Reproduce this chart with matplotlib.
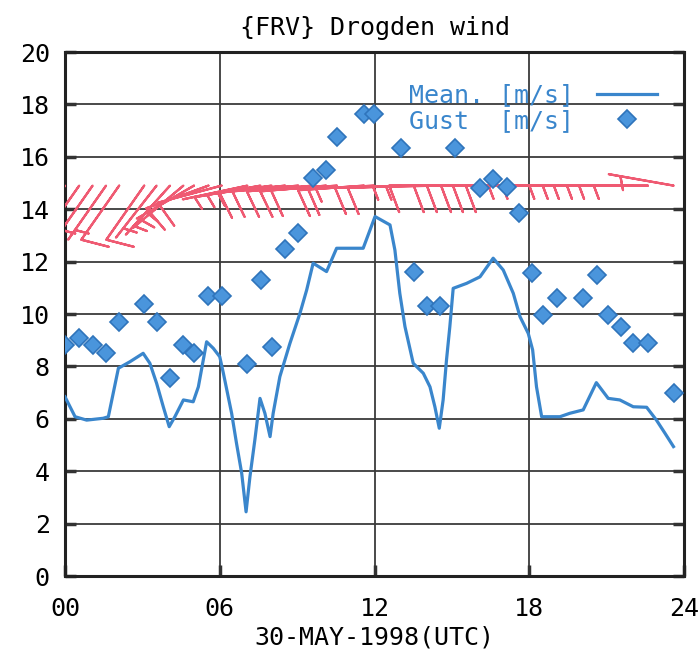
import numpy as np
import matplotlib
matplotlib.use("Agg")
import matplotlib.pyplot as plt

# Mean wind (blue line), hours UTC / m/s
mean_t = [0, 0.39, 0.84, 1.48, 1.68, 2.07, 2.52, 3.03, 3.29, 3.55, 3.81, 4.04, 4.26, 4.59, 4.97,
          5.17, 5.49, 5.75, 6.0, 6.14, 6.46, 6.65, 6.85, 7.02, 7.17, 7.36, 7.56, 7.75, 7.95, 8.07,
          8.33, 8.72, 9.11, 9.37, 9.62, 10.14, 10.53, 11.56, 12.02, 12.6, 12.79, 12.98, 13.18, 13.5,
          13.89, 14.15, 14.34, 14.51, 14.66, 14.79, 14.92, 15.05, 15.57, 16.09, 16.6, 16.99, 17.38,
          17.64, 17.96, 18.13, 18.28, 18.48, 19.19, 19.57, 20.09, 20.6, 21.06, 21.51, 22.03, 22.55,
          22.93, 23.26, 23.59]
mean_ws = [6.84, 6.08, 5.95, 6.02, 6.08, 7.93, 8.18, 8.5, 8.12, 7.36, 6.46, 5.7, 6.08, 6.72, 6.65,
           7.22, 8.94, 8.69, 8.37, 7.74, 6.21, 5.06, 3.92, 2.45, 3.79, 5.19, 6.78, 6.21, 5.32, 6.21,
           7.61, 8.88, 10.03, 10.92, 11.94, 11.62, 12.51, 12.51, 13.72, 13.4, 12.44, 10.79, 9.52, 8.12,
           7.74, 7.22, 6.46, 5.64, 6.72, 8.24, 9.52, 10.98, 11.17, 11.42, 12.13, 11.68, 10.79,
           9.9, 9.26, 8.63, 7.22, 6.08, 6.08, 6.21, 6.34, 7.38, 6.78, 6.72, 6.46, 6.44,
           5.95, 5.45, 4.94]

# Gusts (blue diamonds) and wind barbs share the same times
gust_t = [0, 0.55, 1.07, 1.59, 2.1, 3.07, 3.55, 4.07, 4.59, 5.0, 5.56, 6.07, 7.07, 7.58, 8.01,
          8.53, 9.04, 9.6, 10.12, 10.54, 11.59, 11.98, 13.03, 13.52, 14.04, 14.55, 15.13, 16.08,
          16.59, 17.14, 17.6, 18.1, 18.52, 19.06, 20.1, 20.62, 21.05, 21.56, 22.03, 22.6, 23.6]
gust_ws = [8.8, 9.1, 8.8, 8.5, 9.7, 10.4, 9.7, 7.55, 8.8, 8.5, 10.7, 10.7, 8.1, 11.3, 8.75,
           12.5, 13.1, 15.2, 15.5, 16.75, 17.65, 17.65, 16.35, 11.6, 10.3, 10.3, 16.35, 14.8,
           15.15, 14.85, 13.85, 11.55, 9.95, 10.6, 10.6, 11.5, 9.95, 9.5, 8.9, 8.9, 7.0]

# wind direction (deg, from) and speed for the barbs
barb_dir = [215, 215, 215, 215, 215, 215, 218, 222, 230, 240, 250, 255, 258, 260, 262,
            264, 265, 265, 265, 266, 266, 267, 268, 268, 269, 269, 270, 270,
            270, 270, 270, 270, 270, 270, 270, 270, 270, 270, 270, 270, 280]
barb_ws = [6.8, 6.0, 5.95, 6.05, 7.9, 8.5, 7.3, 5.7, 6.7, 6.7, 8.9, 8.0, 5.0, 6.7, 5.5,
           8.2, 9.8, 11.9, 11.6, 12.5, 12.5, 13.7, 10.5, 8.1, 7.4, 5.7, 11.0, 11.4,
           12.1, 11.4, 9.9, 8.7, 6.1, 6.1, 6.3, 7.4, 6.8, 6.7, 6.5, 6.4, 4.9]
barb_level = 14.9

x_ticks = [0, 6, 12, 18, 24]
x_ticklabels = ["00", "06", "12", "18", "24"]
y_ticks = list(range(0, 21, 2))

BLUE = "#3a86cc"
RED = "#ef5a72"
FONT = "DejaVu Sans Mono"
FS = 18

fig = plt.figure(figsize=(6.99, 6.51), dpi=100)
ax = fig.add_axes([0.093, 0.1152, 0.8856, 0.8049])

rad = np.deg2rad(barb_dir)
ws = np.array(barb_ws)
u = -ws * np.sin(rad)
v = -ws * np.cos(rad)
ax.barbs(gust_t, np.full(len(gust_t), barb_level), u, v, color=RED, length=9.75,
         linewidth=1.6, sizes=dict(height=0.4, spacing=0.12, width=-0.3), flip_barb=True,
         zorder=3, clip_on=True)

ax.plot(mean_t, mean_ws, color=BLUE, lw=2.3, label="Mean. [m/s]", zorder=4)
ax.plot(gust_t, gust_ws, ls="none", marker="D", ms=9, color="#4a95dc",
        mec="#2f74bb", mew=1.2, label="Gust  [m/s]", zorder=5)

ax.set_xlim(0, 24)
ax.set_ylim(0, 20)
ax.set_xticks(x_ticks)
ax.set_xticklabels(x_ticklabels)
ax.set_yticks(y_ticks)
ax.grid(True, color="#3a3a3a", lw=1.3)
ax.set_axisbelow(True)
for s in ax.spines.values():
    s.set_linewidth(2.2)
    s.set_color("#222222")
ax.tick_params(axis="both", direction="in", length=8, width=2.5, color="#333333",
               labelsize=FS, right=True)
ax.tick_params(axis="y", pad=11)
ax.tick_params(axis="x", pad=15)
for lab in ax.get_xticklabels() + ax.get_yticklabels():
    lab.set_family(FONT)

ax.set_title("{FRV} Drogden wind", family=FONT, fontsize=FS, pad=12)
ax.set_xlabel("30-MAY-1998(UTC)", family=FONT, fontsize=FS, labelpad=3)

ax.legend(loc="upper right", bbox_to_anchor=(0.956, 0.94), frameon=False,
          markerfirst=False, labelcolor=BLUE, prop=dict(family=FONT, size=FS),
          handlelength=2.4, handletextpad=0.9, labelspacing=0.05, borderpad=0,
          borderaxespad=0)

fig.savefig("out.png", dpi=100)
